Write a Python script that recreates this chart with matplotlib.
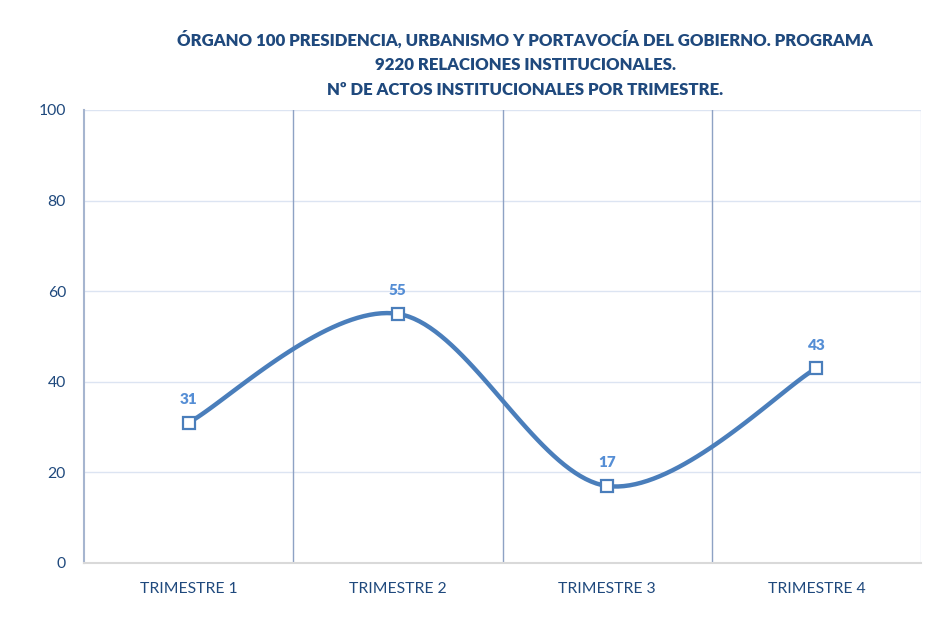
import numpy as np
import matplotlib.pyplot as plt

trimestres = ["TRIMESTRE 1", "TRIMESTRE 2", "TRIMESTRE 3", "TRIMESTRE 4"]
actos = [31, 55, 17, 43]
titulo = ("ÓRGANO 100 PRESIDENCIA, URBANISMO Y PORTAVOCÍA DEL GOBIERNO. PROGRAMA\n"
          "9220 RELACIONES INSTITUCIONALES.\n"
          "Nº DE ACTOS INSTITUCIONALES POR TRIMESTRE.")

plt.rcParams['font.family'] = ['Lato', 'DejaVu Sans']


def suavizar(x, y, n=40):
    # curva tipo Excel (Catmull-Rom)
    x = np.asarray(x, float)
    y = np.asarray(y, float)
    px = np.concatenate([[x[0]], x, [x[-1]]])
    py = np.concatenate([[y[0]], y, [y[-1]]])
    xs, ys = [], []
    t = np.linspace(0, 1, n)
    for i in range(1, len(px) - 2):
        p0, p1, p2, p3 = (np.array([px[j], py[j]]) for j in range(i - 1, i + 3))
        c1 = p1 + (p2 - p0) / 6
        c2 = p2 - (p3 - p1) / 6
        b = ((1 - t) ** 3)[:, None] * p1 + (3 * (1 - t) ** 2 * t)[:, None] * c1 \
            + (3 * (1 - t) * t ** 2)[:, None] * c2 + (t ** 3)[:, None] * p2
        xs.extend(b[:, 0])
        ys.extend(b[:, 1])
    return xs, ys


fig = plt.figure(figsize=(9.28, 6.41), dpi=100)
ax = fig.add_axes([0.0905, 0.1217, 0.902, 0.7067])

x = np.arange(len(trimestres))
sx, sy = suavizar(x, actos)
ax.plot(sx, sy, color="#4A7EBB", lw=3.2, solid_capstyle="round", zorder=3)
ax.plot(x, actos, ls="none", marker="s", ms=8, mfc="white", mec="#4A7EBB", mew=1.6, zorder=4)

for xi, v in zip(x, actos):
    ax.annotate(str(v), (xi, v), xytext=(0, 12), textcoords="offset points",
                ha="center", va="bottom", color="#558ED5", fontsize=11, fontweight="heavy")

ax.set_xlim(-0.5, len(trimestres) - 0.5)
ax.set_ylim(0, 100)
ax.set_yticks(range(0, 101, 20))
ax.set_xticks(x)
ax.set_xticklabels(trimestres)
ax.tick_params(axis="both", length=0, colors="#1F497D", labelsize=11.3)
ax.tick_params(axis="x", pad=14)
ax.tick_params(axis="y", pad=13)
for lab in ax.get_yticklabels():
    lab.set_horizontalalignment("right")

ax.grid(axis="y", color="#DCE4F2", lw=1)
for b in np.arange(0.5, len(trimestres) - 0.5, 1):
    ax.axvline(b, color="#8EA2C4", lw=1, zorder=1)
ax.axvline(len(trimestres) - 0.5, color="#DCE4F2", lw=1, zorder=1)
ax.set_axisbelow(True)

for s in ["top", "right"]:
    ax.spines[s].set_visible(False)
ax.spines["left"].set_color("#A6B5CF")
ax.spines["left"].set_linewidth(1.5)
ax.spines["bottom"].set_color("#D9D9D9")
ax.spines["bottom"].set_linewidth(1.5)

fig.text(0.566, 0.953, titulo, ha="center", va="top", color="#1F497D",
         fontsize=12.1, fontweight="heavy", linespacing=1.68)

fig.savefig("out.png", dpi=100)
